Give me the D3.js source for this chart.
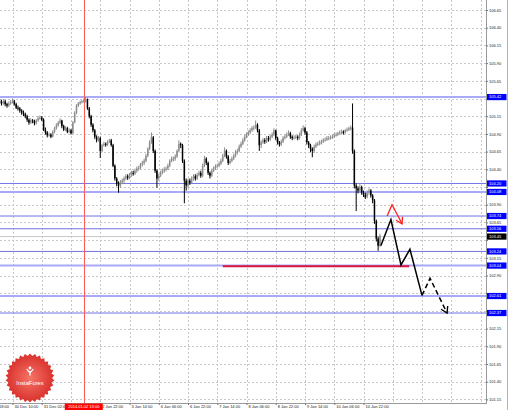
<!DOCTYPE html>
<html><head><meta charset="utf-8">
<script src="https://cdn.jsdelivr.net/npm/d3@7"></script>
<style>html,body{margin:0;padding:0;background:#fff;overflow:hidden}svg{display:block}</style>
</head><body>
<svg id="c" width="510" height="410"></svg>
<script>
// ---------- data ----------
const firstBar = 9;          // hourly bar index (0 = 29 Dec 18:00) of first visible bar
const firstOpen = 105.36;
const closes = [
105.35,105.33,105.36,105.32,105.30,105.33,105.35,105.36,105.32,105.27,
105.26,105.23,105.20,105.18,105.15,105.10,105.06,105.09,105.08,105.05,
105.09,105.12,105.13,105.10,104.96,104.92,104.88,104.89,104.86,104.93,
104.98,105.02,105.06,105.09,105.01,104.96,104.98,104.93,104.95,104.91,
105.06,105.20,105.30,105.33,105.35,105.36,105.37,105.39,105.26,105.15,
105.03,104.95,104.86,104.81,104.84,104.66,104.74,104.76,104.75,104.79,
104.81,104.74,104.45,104.27,104.20,104.17,104.22,104.24,104.27,104.30,
104.28,104.32,104.35,104.34,104.38,104.41,104.42,104.47,104.49,104.52,
104.59,104.69,104.78,104.85,104.66,104.38,104.27,104.31,104.35,104.38,
104.40,104.41,104.45,104.52,104.55,104.55,104.58,104.66,104.76,104.74,
104.52,104.24,104.17,104.24,104.21,104.27,104.30,104.27,104.32,104.35,
104.31,104.45,104.55,104.49,104.35,104.31,104.38,104.41,104.44,104.45,
104.48,104.52,104.59,104.66,104.58,104.49,104.52,104.55,104.59,104.64,
104.66,104.72,104.76,104.81,104.86,104.89,104.92,104.95,104.98,104.99,
105.03,104.95,104.74,104.78,104.81,104.79,104.84,104.82,104.86,104.89,
104.95,104.84,104.78,104.75,104.79,104.84,104.86,104.89,104.91,104.86,
104.84,104.85,104.86,104.84,104.89,104.95,104.98,104.92,104.78,104.74,
104.69,104.66,104.72,104.75,104.76,104.78,104.79,104.81,104.82,104.84,
104.84,104.85,104.86,104.88,104.89,104.91,104.92,104.93,104.92,104.95,
104.96,104.98,104.99,104.66,104.17,104.13,104.10,104.15,104.07,104.04,
104.01,104.07,104.10,104.03,103.96,103.67,103.42,103.32,103.46];
const highs = [
105.39,105.38,105.39,105.38,105.34,105.36,105.38,105.40,105.38,105.34,
105.30,105.28,105.25,105.23,105.20,105.17,105.12,105.12,105.11,105.10,
105.11,105.15,105.16,105.15,105.12,104.99,104.94,104.92,104.91,104.95,
105.00,105.05,105.08,105.12,105.10,105.03,105.01,105.00,104.98,104.97,
105.08,105.22,105.32,105.35,105.37,105.38,105.40,105.42,105.40,105.28,
105.17,105.05,104.97,104.88,104.87,104.86,104.76,104.79,104.78,104.81,
104.83,104.83,104.76,104.47,104.29,104.23,104.25,104.27,104.30,104.33,
104.33,104.35,104.38,104.38,104.41,104.44,104.45,104.49,104.52,104.55,
104.62,104.71,104.81,104.92,104.87,104.68,104.40,104.34,104.38,104.41,
104.43,104.44,104.48,104.54,104.58,104.58,104.61,104.68,104.81,104.78,
104.76,104.54,104.27,104.27,104.27,104.30,104.33,104.33,104.35,104.38,
104.38,104.48,104.59,104.57,104.51,104.37,104.41,104.44,104.47,104.48,
104.51,104.55,104.62,104.71,104.68,104.60,104.55,104.58,104.62,104.67,
104.69,104.75,104.79,104.84,104.89,104.92,104.95,104.98,105.01,105.02,
105.09,105.05,104.97,104.81,104.84,104.84,104.87,104.87,104.89,104.92,
104.98,104.96,104.86,104.80,104.82,104.87,104.89,104.92,104.95,104.93,
104.88,104.88,104.89,104.88,104.92,104.98,105.02,105.00,104.94,104.80,
104.76,104.71,104.75,104.78,104.79,104.81,104.82,104.84,104.85,104.87,
104.87,104.88,104.89,104.91,104.92,104.93,104.95,104.96,104.95,104.97,
104.99,105.00,105.02,105.33,104.68,104.20,104.16,104.19,104.17,104.10,
104.07,104.10,104.13,104.12,104.05,103.98,103.69,103.45,103.49];
const lows = [
105.32,105.30,105.31,105.29,105.27,105.28,105.31,105.33,105.30,105.25,
105.23,105.20,105.17,105.15,105.12,105.07,105.03,105.04,105.05,105.02,
105.03,105.07,105.10,105.08,104.94,104.89,104.85,104.86,104.84,104.85,
104.91,104.96,105.00,105.04,104.98,104.94,104.94,104.91,104.91,104.89,
104.90,105.05,105.18,105.28,105.31,105.33,105.34,105.34,105.24,105.12,
105.00,104.92,104.83,104.78,104.79,104.56,104.64,104.72,104.72,104.73,
104.77,104.72,104.43,104.24,104.16,104.07,104.14,104.19,104.21,104.25,
104.25,104.26,104.29,104.31,104.32,104.35,104.38,104.40,104.44,104.46,
104.50,104.57,104.67,104.76,104.63,104.35,104.14,104.24,104.29,104.33,
104.35,104.37,104.39,104.43,104.50,104.51,104.52,104.56,104.64,104.70,
104.49,103.92,104.10,104.14,104.18,104.19,104.24,104.24,104.25,104.30,
104.28,104.29,104.43,104.46,104.32,104.27,104.29,104.36,104.39,104.42,
104.43,104.46,104.50,104.57,104.55,104.46,104.47,104.50,104.53,104.57,
104.61,104.64,104.70,104.74,104.79,104.84,104.87,104.90,104.93,104.95,
104.97,104.92,104.66,104.70,104.76,104.76,104.77,104.79,104.80,104.84,
104.87,104.81,104.75,104.72,104.73,104.77,104.82,104.84,104.87,104.83,
104.81,104.82,104.83,104.81,104.82,104.87,104.93,104.89,104.75,104.70,
104.64,104.57,104.63,104.70,104.73,104.74,104.75,104.77,104.79,104.80,
104.81,104.82,104.83,104.84,104.86,104.87,104.89,104.90,104.89,104.90,
104.93,104.94,104.95,104.62,104.13,103.81,104.06,104.07,104.04,104.01,
103.98,103.99,104.04,104.00,103.92,103.63,103.38,103.25,103.30];

const timeLabels = ["29 Dec 18:00","30 Dec 10:00","31 Dec 02:00","2 Jan 06:00","2 Jan 22:00",
  "3 Jan 14:00","6 Jan 06:00","6 Jan 22:00","7 Jan 14:00","8 Jan 06:00","8 Jan 22:00",
  "9 Jan 14:00","10 Jan 06:00","10 Jan 22:00"];
const labelStep = 16;        // bars between time labels
const gridBarsEnd = 272;
const priceTicks = [106.65,106.40,106.15,105.90,105.65,105.40,105.15,104.90,104.65,104.40,104.15,
  103.90,103.65,103.40,103.15,102.90,102.65,102.40,102.15,101.90,101.65,101.40,101.15];
const levels = [105.42,104.20,104.08,103.74,103.56,103.24,103.04,102.61,102.37];
const majorLevels = [105.42,104.08,103.04,102.61];
const bidPrice = 103.45;
const crossBar = 55;
const crossLabel = "2014.01.02 13:00";
const supportBars = [131,233];
const supportPrice = 103.03;
const fcBars = [217.5,223,228.5,233.4,240,244.4,253.7];
const fcPrices = [103.32,103.69,103.05,103.27,102.62,102.86,102.37];
const fcSolidCount = 5;
const altBars = [220.9,223.6,229.1];
const altPrices = [103.74,103.90,103.63];
const logoText = "InstaForex";

// ---------- drawing ----------
const W = 510, H = 410, plotR = 486, plotB = 403;
const FONT = "'Liberation Sans', Arial, sans-serif";
const x = d3.scaleLinear().domain([0, 208]).range([-16.75, 363.5]);
const y = d3.scaleLinear().domain([101.15, 106.65]).range([399.4, 10]);
const svg = d3.select("#c");
svg.append("rect").attr("width", W).attr("height", H).attr("fill", "#fff");
const defs = svg.append("defs");
defs.append("clipPath").attr("id", "clip").append("rect").attr("x", 0).attr("y", 0).attr("width", plotR).attr("height", plotB);
const g = svg.append("g").attr("clip-path", "url(#clip)");

// grid
g.selectAll(".hg").data(priceTicks).join("line")
  .attr("x1", 0).attr("x2", plotR)
  .attr("y1", d => Math.round(y(d)) + 0.5).attr("y2", d => Math.round(y(d)) + 0.5)
  .attr("stroke", "#c8c8c8").attr("stroke-width", 1).attr("stroke-dasharray", "2,2");
const gridBars = d3.range(0, gridBarsEnd + 1, labelStep);
g.selectAll(".vg").data(gridBars).join("line")
  .attr("x1", d => Math.round(x(d)) + 0.5).attr("x2", d => Math.round(x(d)) + 0.5)
  .attr("y1", 0).attr("y2", plotB)
  .attr("stroke", "#c8c8c8").attr("stroke-width", 1).attr("stroke-dasharray", "2,2");

// logo
const lg = g.append("g");
const grad = defs.append("radialGradient").attr("id", "lgrad");
grad.append("stop").attr("offset", "0%").attr("stop-color", "#f57468");
grad.append("stop").attr("offset", "100%").attr("stop-color", "#d9302b");
const teeth = 30, cx = 30, cy = 378;
const starPts = d3.range(teeth * 2).map(k => [k * Math.PI / teeth, k % 2 ? 22 : 24.5]);
lg.append("path").attr("d", d3.lineRadial().curve(d3.curveLinearClosed)(starPts))
  .attr("transform", `translate(${cx},${cy})`).attr("fill", "url(#lgrad)");
lg.append("circle").attr("cx", cx).attr("cy", cy - 10).attr("r", 1.4).attr("fill", "#fff");
lg.append("path").attr("d", `M${cx-3.2},${cy-9} Q${cx},${cy-3} ${cx+3.2},${cy-9}`).attr("fill", "none").attr("stroke", "#fff").attr("stroke-width", 1.3);
lg.append("line").attr("x1", cx).attr("x2", cx).attr("y1", cy - 7).attr("y2", cy - 2.5).attr("stroke", "#fff").attr("stroke-width", 1.4);
lg.append("text").attr("x", cx).attr("y", cy + 7).attr("text-anchor", "middle")
  .attr("font-family", FONT).attr("font-size", 5.8).attr("fill", "#fff").text(logoText);

// level lines
g.selectAll(".lvl").data(levels).join("line")
  .attr("x1", 0).attr("x2", plotR)
  .attr("y1", d => y(d)).attr("y2", d => y(d))
  .attr("stroke", d => majorLevels.includes(d) ? "#a9a9f6" : "#7272e6")
  .attr("stroke-width", d => majorLevels.includes(d) ? 2 : 1);
// bid line
g.append("line").attr("x1", 0).attr("x2", plotR).attr("y1", y(bidPrice)).attr("y2", y(bidPrice))
  .attr("stroke", "#c8c8c8").attr("stroke-width", 1);

// crosshair
g.append("line").attr("x1", Math.round(x(crossBar)) + 0.5).attr("x2", Math.round(x(crossBar)) + 0.5)
  .attr("y1", 0).attr("y2", plotB).attr("stroke", "#ff5a5a").attr("stroke-width", 1);

// candles
const bars = closes.map((c, i) => ({
  j: firstBar + i, o: i === 0 ? firstOpen : closes[i - 1], c, h: highs[i], l: lows[i]
}));
const cg = g.append("g");
cg.selectAll(".wick").data(bars).join("line")
  .attr("x1", d => x(d.j)).attr("x2", d => x(d.j))
  .attr("y1", d => y(d.h)).attr("y2", d => y(d.l))
  .attr("stroke", d => d.c >= d.o ? "#8c8c8c" : "#000").attr("stroke-width", 1);
cg.selectAll(".body").data(bars).join("rect")
  .attr("x", d => x(d.j) - 0.75).attr("width", 1.5)
  .attr("y", d => y(Math.max(d.o, d.c)))
  .attr("height", d => Math.max(1, Math.abs(y(d.o) - y(d.c))))
  .attr("fill", d => d.c >= d.o ? "#8c8c8c" : "#000");

// support line
g.append("line").attr("x1", x(supportBars[0])).attr("x2", x(supportBars[1]))
  .attr("y1", y(supportPrice)).attr("y2", y(supportPrice))
  .attr("stroke", "#d9143e").attr("stroke-width", 2);

// forecast
const fcPts = fcBars.map((b, i) => [x(b), y(fcPrices[i])]);
const line = d3.line();
g.append("path").attr("d", line(fcPts.slice(0, fcSolidCount)))
  .attr("fill", "none").attr("stroke", "#000").attr("stroke-width", 1.5).attr("stroke-linejoin", "miter");
g.append("path").attr("d", line(fcPts.slice(fcSolidCount - 1)))
  .attr("fill", "none").attr("stroke", "#000").attr("stroke-width", 1.5).attr("stroke-dasharray", "5,3");
function arrowHead(pts, color, w) {
  const a = pts[pts.length - 2], b = pts[pts.length - 1];
  const ang = Math.atan2(b[1] - a[1], b[0] - a[0]);
  const L = 7;
  const p1 = [b[0] - L * Math.cos(ang - 0.55), b[1] - L * Math.sin(ang - 0.55)];
  const p2 = [b[0] - L * Math.cos(ang + 0.55), b[1] - L * Math.sin(ang + 0.55)];
  g.append("path").attr("d", line([p1, b, p2])).attr("fill", "none")
    .attr("stroke", color).attr("stroke-width", w);
}
arrowHead(fcPts, "#000", 1.4);
const altPts = altBars.map((b, i) => [x(b), y(altPrices[i])]);
g.append("path").attr("d", line(altPts)).attr("fill", "none")
  .attr("stroke", "#ff2020").attr("stroke-width", 1.3);
arrowHead(altPts, "#ff2020", 1.3);

// frame
svg.append("line").attr("x1", plotR + 0.5).attr("x2", plotR + 0.5).attr("y1", 0).attr("y2", plotB + 1).attr("stroke", "#9a9a9a");
svg.append("line").attr("x1", 0).attr("x2", plotR + 1).attr("y1", plotB + 0.5).attr("y2", plotB + 0.5).attr("stroke", "#9a9a9a");
svg.append("line").attr("x1", 507.5).attr("x2", 507.5).attr("y1", 0).attr("y2", H).attr("stroke", "#b4b4b4");

// highlighted tags (for hiding covered tick labels)
const tags = levels.map(p => ({ p, fill: "#0000ff" })).concat([{ p: bidPrice, fill: "#000" }]);
const covered = v => tags.some(t => Math.abs(y(t.p) - y(v)) < 5);

// price axis
const ya = svg.append("g").attr("transform", `translate(${plotR},0)`)
  .call(d3.axisRight(y).tickValues(priceTicks).tickFormat(d3.format(".2f")).tickSize(2).tickPadding(1));
ya.select(".domain").remove();
ya.selectAll(".tick line").attr("stroke", "#777");
ya.selectAll(".tick text").attr("font-family", FONT).attr("font-size", 4).attr("fill", "#222").attr("x", 3)
  .style("display", d => covered(d) ? "none" : null);

// time axis
const cxp = x(crossBar);
const xa = svg.append("g").attr("transform", `translate(0,${plotB})`)
  .call(d3.axisBottom(x).tickValues(timeLabels.map((d, i) => i * labelStep))
    .tickFormat((d, i) => timeLabels[i]).tickSize(2));
xa.select(".domain").remove();
xa.selectAll(".tick line").attr("stroke", "#777");
xa.selectAll(".tick text").attr("font-family", FONT).attr("font-size", 4).attr("fill", "#222")
  .attr("text-anchor", "start").attr("x", 1.5).attr("y", 5.2).attr("dy", 0)
  .style("display", d => (x(d) > cxp - 30 && x(d) < cxp + 10) ? "none" : null);

// highlighted price labels
const hl = svg.append("g");
tags.forEach(t => {
  const yy = y(t.p);
  hl.append("rect").attr("x", plotR + 1).attr("y", yy - 3.1).attr("width", 19.5).attr("height", 6.2).attr("fill", t.fill);
  hl.append("text").attr("x", plotR + 3).attr("y", yy).attr("dy", "0.35em")
    .attr("font-family", FONT).attr("font-size", 4).attr("fill", "#fff").text(t.p.toFixed(2));
});

// crosshair time tag
svg.append("rect").attr("x", cxp - 19).attr("y", plotB + 0.5).attr("width", 38).attr("height", 6.5).attr("fill", "#ff0000");
svg.append("text").attr("x", cxp).attr("y", plotB + 5.3).attr("text-anchor", "middle")
  .attr("font-family", FONT).attr("font-size", 4).attr("fill", "#fff").text(crossLabel);
</script>
</body></html>
